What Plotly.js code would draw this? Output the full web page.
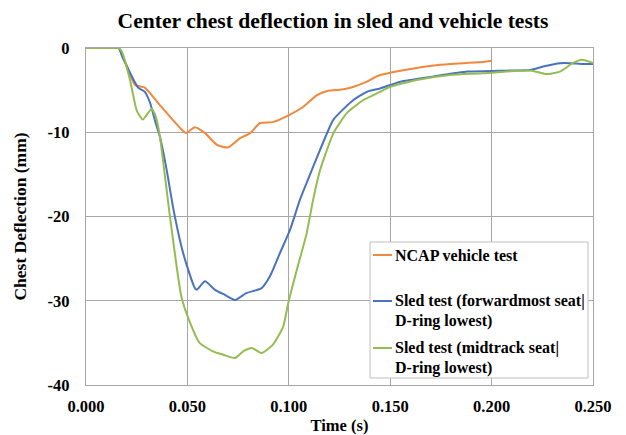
<!DOCTYPE html>
<html>
<head>
<meta charset="utf-8">
<script src="https://cdn.plot.ly/plotly-3.0.1.min.js"></script>
<style>html,body{margin:0;padding:0;background:#fff;}#chart{width:626px;height:435px;}</style>
</head>
<body>
<div id="chart"></div>
<script>
// NCAP vehicle test
const ncapT = [0, 0.010, 0.016, 0.018, 0.0242, 0.029, 0.0365, 0.0464, 0.0493, 0.0537, 0.0587, 0.0646, 0.070, 0.076, 0.081, 0.0858, 0.092, 0.1006, 0.107, 0.1139, 0.119, 0.127, 0.132, 0.1385, 0.144, 0.155, 0.1745, 0.193, 0.200];
const ncapY = [0, 0, 0, -0.8, -4.4, -4.7, -6.8, -9.5, -10.1, -9.4, -10.1, -11.5, -11.8, -10.7, -10.1, -8.9, -8.8, -7.9, -7.0, -5.6, -5.1, -4.9, -4.6, -4.0, -3.3, -2.7, -2.0, -1.7, -1.5];
// Sled test (forwardmost seat | D-ring lowest)
const fwdT = [0, 0.010, 0.016, 0.018, 0.0257, 0.029, 0.0316, 0.034, 0.0365, 0.0398, 0.043, 0.047, 0.0497, 0.0537, 0.0546, 0.0587, 0.0636, 0.0685, 0.0735, 0.079, 0.0866, 0.0907, 0.0957, 0.1006, 0.1055, 0.1088, 0.1154, 0.122, 0.1317, 0.1385, 0.145, 0.155, 0.171, 0.188, 0.204, 0.219, 0.2254, 0.2337, 0.2387, 0.245, 0.250];
const fwdY = [0, 0, 0, -1.1, -4.7, -5.2, -6.5, -8.6, -10.6, -14.5, -19.0, -23.5, -25.8, -28.5, -28.7, -27.7, -28.7, -29.3, -29.9, -29.1, -28.5, -27.1, -24.3, -21.6, -18.0, -16.0, -12.1, -8.5, -6.2, -5.2, -4.8, -4.0, -3.4, -2.8, -2.7, -2.6, -2.2, -1.8, -1.8, -1.9, -1.9];
// Sled test (midtrack seat | D-ring lowest)
const midT = [0, 0.010, 0.016, 0.0176, 0.0217, 0.025, 0.028, 0.0324, 0.0345, 0.0365, 0.0414, 0.047, 0.0513, 0.056, 0.0626, 0.0676, 0.0735, 0.0775, 0.0817, 0.0866, 0.0922, 0.0972, 0.0997, 0.104, 0.1088, 0.112, 0.1154, 0.122, 0.1287, 0.1366, 0.145, 0.150, 0.163, 0.1795, 0.196, 0.2125, 0.220, 0.227, 0.2337, 0.240, 0.2445, 0.250];
const midY = [0, 0, 0, -0.4, -3.8, -7.4, -8.5, -7.2, -8.2, -10.6, -20.0, -29.5, -32.6, -35.0, -36.0, -36.4, -36.8, -36.0, -35.6, -36.2, -35.2, -33.1, -30.3, -26.3, -22.0, -18.0, -14.5, -10.1, -7.7, -6.2, -5.2, -4.6, -3.8, -3.2, -3.0, -2.7, -2.7, -3.1, -2.8, -1.8, -1.4, -1.8];

const names = [["NCAP vehicle test"], ["Sled test (forwardmost seat|", "D-ring lowest)"], ["Sled test (midtrack seat|", "D-ring lowest)"]];
const colors = ["#F0883E", "#4A72C0", "#94BC50"];
const xTicks = [0, 0.05, 0.1, 0.15, 0.2, 0.25];
const yTicks = [0, -10, -20, -30, -40];

const serif = "Liberation Serif, Times New Roman, serif";
const series = [[ncapT, ncapY], [fwdT, fwdY], [midT, midY]];
const data = series.map((s, i) => ({
  x: s[0], y: s[1], name: names[i].join(" "), type: "scatter", mode: "lines",
  line: {color: colors[i], width: 2, shape: "spline", smoothing: 0.5}, showlegend: false
}));

// plot area in pixels (for manual legend placement)
const PL = 86, PR = 593, PT = 48, PB = 385;
const px = v => (v - PL) / (PR - PL);
const py = v => (PB - v) / (PB - PT);

const shapes = [{type: "rect", xref: "paper", yref: "paper", x0: px(370), x1: px(588), y0: py(378), y1: py(242),
  line: {color: "#BFBFBF", width: 1}, fillcolor: "#fff", layer: "above"}];
const annotations = [];
const rowY = [255, 301, 348];
names.forEach((lines, i) => {
  shapes.push({type: "line", xref: "paper", yref: "paper", x0: px(373), x1: px(392), y0: py(rowY[i]), y1: py(rowY[i]),
    line: {color: colors[i], width: 2}, layer: "above"});
  lines.forEach((t, j) => {
    annotations.push({xref: "paper", yref: "paper", x: px(393), y: py(rowY[i] + j * 19.5), xanchor: "left", yanchor: "middle",
      text: "<b>" + t + "</b>", showarrow: false, font: {family: serif, size: 16, color: "#000"}});
  });
});

const layout = {
  width: 626, height: 435,
  margin: {l: PL, r: 626 - PR, t: PT, b: 435 - PB},
  paper_bgcolor: "#fff", plot_bgcolor: "#fff",
  font: {family: serif, color: "#000", size: 16},
  title: {text: "<b>Center chest deflection in sled and vehicle tests</b>", font: {family: serif, size: 21.6, color: "#000"}, x: 0.532, xanchor: "center", y: 0.952, yanchor: "middle"},
  xaxis: {
    range: [0, 0.25], tickvals: xTicks, ticktext: xTicks.map(v => "<b>" + v.toFixed(3) + "</b>"),
    showgrid: true, gridcolor: "#A6A6A6", gridwidth: 1.3, zeroline: false,
    showline: true, linecolor: "#A6A6A6", linewidth: 1.3, mirror: true, ticks: "",
    ticklabelstandoff: 6,
    tickfont: {family: serif, size: 16.5, color: "#000"},
    title: {text: "<b>Time (s)</b>", font: {family: serif, size: 16.5, color: "#000"}, standoff: 4}
  },
  yaxis: {
    range: [-40, 0], tickvals: yTicks, ticktext: yTicks.map(v => "<b>" + v + "</b>"),
    showgrid: true, gridcolor: "#A6A6A6", gridwidth: 1.3, zeroline: false,
    showline: true, linecolor: "#A6A6A6", linewidth: 1.3, mirror: true, ticks: "",
    ticklabelstandoff: 12,
    tickfont: {family: serif, size: 16.5, color: "#000"},
    title: {text: "<b>Chest Deflection (mm)</b>", font: {family: serif, size: 17.5, color: "#000"}, standoff: 16}
  },
  showlegend: false,
  shapes: shapes,
  annotations: annotations
};

Plotly.newPlot("chart", data, layout, {displayModeBar: false, staticPlot: true});
</script>
</body>
</html>
